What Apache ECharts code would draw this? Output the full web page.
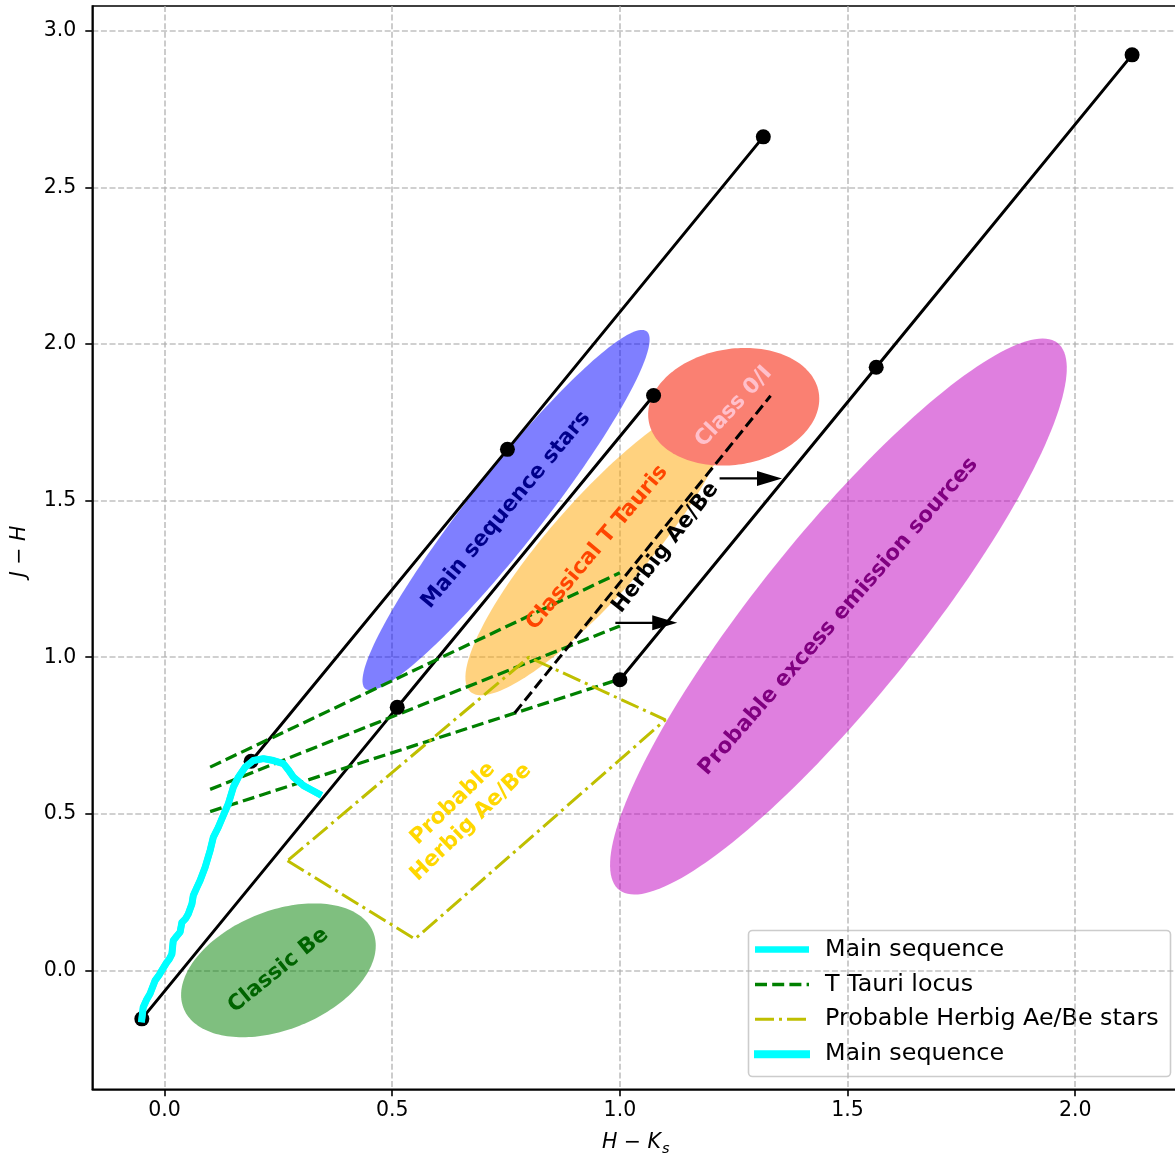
<!DOCTYPE html>
<html>
<head>
<meta charset="utf-8">
<script src="https://cdn.jsdelivr.net/npm/echarts@6/dist/echarts.min.js"></script>
<style>
  html, body { margin: 0; padding: 0; background: #ffffff; }
  #chart { width: 1175px; height: 1155px; }
</style>
</head>
<body>
<div id="chart"></div>
<script>
// ---- Colour-colour diagram data (H-Ks on x, J-H on y) ----

// Intrinsic main-sequence track
const mainSeqHK = [-0.050, -0.047, -0.040, -0.032, -0.021, -0.012, -0.006, 0.005, 0.010, 0.016, 0.019,
                   0.026, 0.034, 0.038, 0.046, 0.052, 0.060, 0.063, 0.070, 0.078, 0.089, 0.100, 0.107,
                   0.118, 0.129, 0.140, 0.151, 0.162, 0.177, 0.195, 0.217, 0.239, 0.261, 0.272, 0.283,
                   0.305, 0.324, 0.338];
const mainSeqJH = [-0.155, -0.118, -0.095, -0.075, -0.033, -0.015, 0.000, 0.026, 0.035, 0.052, 0.095,
                   0.108, 0.122, 0.153, 0.165, 0.180, 0.212, 0.239, 0.262, 0.287, 0.329, 0.383, 0.425,
                   0.457, 0.495, 0.532, 0.585, 0.617, 0.649, 0.670, 0.676, 0.670, 0.660, 0.640, 0.617,
                   0.590, 0.575, 0.564];

// Reddening vectors (anchor points every 0.5625 in H-Ks)
const redUpperHK  = [0.190, 0.753, 1.315];
const redUpperJH  = [0.668, 1.664, 2.662];
const redMiddleHK = [-0.050, 0.511, 1.074];
const redMiddleJH = [-0.155, 0.840, 1.836];
const redLowerHK  = [1.000, 1.563, 2.125];
const redLowerJH  = [0.928, 1.926, 2.924];

// T Tauri locus with its upper / lower bounds
const tTauriHK      = [0.10, 1.00];
const tTauriUpperJH = [0.649, 1.270];
const tTauriMidJH   = [0.578, 1.100];
const tTauriLowerJH = [0.507, 0.930];

// Herbig Ae/Be reddening track
const herbigHK = [0.769, 1.331];
const herbigJH = [0.822, 1.835];

// Horizontal arrows (start, end)
const arrowHK0 = [0.990, 1.219];
const arrowHK1 = [1.126, 1.356];
const arrowJH  = [1.110, 1.571];

// Probable Herbig Ae/Be box
const haebeHK = [0.27, 0.55, 1.10, 0.80, 0.27];
const haebeJH = [0.35, 0.10, 0.80, 1.00, 0.35];

// Populated regions as ellipses: centre, full width, full height, angle (deg)
const regionNames  = ['Main sequence stars', 'Classical T Tauris', 'Class 0/I', 'Probable excess emission sources', 'Classic Be'];
const regionHK     = [0.75, 0.95, 1.25, 1.48, 0.25];
const regionJH     = [1.47, 1.35, 1.80, 1.13, 0.00];
const regionWidth  = [1.30, 1.08, 0.40, 2.00, 0.50];
const regionHeight = [0.18, 0.24, 0.35, 0.40, 0.34];
const regionAngle  = [62, 60, 45, 62, 45];

// Region annotations
const labelTexts = ['Main sequence stars', 'Classical T Tauris', 'Class 0/I', 'Herbig Ae/Be',
                    'Probable excess emission sources', 'Classic Be', 'Probable\nHerbig Ae/Be'];
const labelHK = [0.75, 0.95, 1.25, 1.10, 1.48, 0.25, 0.653];
const labelJH = [1.47, 1.35, 1.80, 1.35, 1.13, 0.00, 0.503];

// Tick values
const xTicks = [0.0, 0.5, 1.0, 1.5, 2.0];
const yTicks = [0.0, 0.5, 1.0, 1.5, 2.0, 2.5, 3.0];

// ---- styling ----
const regionFill = ['rgba(0,0,255,0.5)', 'rgba(255,165,0,0.5)', '#fa8072', 'rgba(191,0,191,0.5)', 'rgba(0,128,0,0.5)'];
const labelStyle = [
  { rot: 50, color: '#00008b' },
  { rot: 50, color: '#ff4500' },
  { rot: 47, color: '#ffc0cb' },
  { rot: 52, color: '#000000' },
  { rot: 49, color: '#800080' },
  { rot: 39, color: '#006400' },
  { rot: 44, color: '#ffd700' }
];
const FONT = '"DejaVu Sans", "Liberation Sans", sans-serif';

const zip = (xs, ys) => xs.map((x, i) => [x, ys[i]]);

const ellipseData = regionHK.map((x, i) => [x, regionJH[i], regionWidth[i], regionHeight[i], regionAngle[i], i]);
const arrowData = arrowJH.map((y, i) => [arrowHK0[i], y, arrowHK1[i], y]);
const labelData = labelHK.map((x, i) => [x, labelJH[i], i]);

function renderEllipse(params, api) {
  const cx = api.value(0), cy = api.value(1);
  const a = api.value(2) / 2, b = api.value(3) / 2;
  const th = api.value(4) * Math.PI / 180;
  const idx = api.value(5);
  const pts = [];
  for (let k = 0; k < 180; k++) {
    const t = k / 180 * Math.PI * 2;
    const lx = a * Math.cos(t), ly = b * Math.sin(t);
    pts.push(api.coord([cx + lx * Math.cos(th) - ly * Math.sin(th),
                        cy + lx * Math.sin(th) + ly * Math.cos(th)]));
  }
  return { type: 'polygon', shape: { points: pts }, style: { fill: regionFill[idx], stroke: null } };
}

function renderArrow(params, api) {
  const p0 = api.coord([api.value(0), api.value(1)]);
  const p1 = api.coord([api.value(2), api.value(3)]);
  const headLen = 25, headHalf = 7.5;
  const dx = p1[0] - p0[0], dy = p1[1] - p0[1];
  const L = Math.sqrt(dx * dx + dy * dy);
  const ux = dx / L, uy = dy / L;
  const bx = p1[0] - ux * headLen, by = p1[1] - uy * headLen;
  return {
    type: 'group',
    children: [
      { type: 'line', shape: { x1: p0[0], y1: p0[1], x2: bx + ux * 2, y2: by + uy * 2 },
        style: { stroke: '#000', lineWidth: 2.2 } },
      { type: 'polygon',
        shape: { points: [[p1[0], p1[1]], [bx - uy * headHalf, by + ux * headHalf], [bx + uy * headHalf, by - ux * headHalf]] },
        style: { fill: '#000' } }
    ]
  };
}

function renderLabel(params, api) {
  const p = api.coord([api.value(0), api.value(1)]);
  const i = api.value(2);
  return {
    type: 'text', x: p[0], y: p[1], rotation: labelStyle[i].rot * Math.PI / 180,
    style: {
      text: labelTexts[i], fill: labelStyle[i].color, fontSize: 21.5, fontWeight: 'bold',
      fontFamily: FONT, align: 'center', verticalAlign: 'middle', lineHeight: 26
    }
  };
}

const gridLine = { show: true, lineStyle: { color: '#b0b0b0', opacity: 0.8, width: 1.6, type: [6, 2.6] } };
const axisCommon = {
  type: 'value',
  splitNumber: 5, minInterval: 0.5, maxInterval: 0.5,
  axisLine: { show: true, onZero: false, lineStyle: { color: '#000', width: 1.6 } },
  axisTick: { show: true, length: 7, lineStyle: { color: '#000', width: 1.6 } },
  splitLine: gridLine
};

const option = {
  animation: false,
  backgroundColor: '#ffffff',
  grid: {
    left: 92.3, top: 6, right: -10, bottom: 65.7,
    containLabel: false, outerBoundsMode: 'none',
    show: true, borderColor: '#000', borderWidth: 1.6, backgroundColor: 'transparent'
  },
  xAxis: Object.assign({}, axisCommon, {
    min: -0.1588, max: 2.2412,
    axisTick: Object.assign({}, axisCommon.axisTick, { customValues: xTicks }),
    axisLabel: { customValues: xTicks, formatter: v => v.toFixed(1), color: '#000',
                 fontSize: 20.5, fontFamily: FONT, margin: 11 }
  }),
  yAxis: Object.assign({}, axisCommon, {
    min: -0.380, max: 3.080,
    axisTick: Object.assign({}, axisCommon.axisTick, { customValues: yTicks }),
    axisLabel: { customValues: yTicks, formatter: v => v.toFixed(1), color: '#000',
                 fontSize: 20.5, fontFamily: FONT, margin: 16 }
  }),
  series: [
    { type: 'custom', name: 'Regions', silent: true, data: ellipseData, renderItem: renderEllipse,
      encode: { x: 0, y: 1 } },
    ...[[redUpperHK, redUpperJH], [redMiddleHK, redMiddleJH], [redLowerHK, redLowerJH]].map(([hk, jh]) => ({
      type: 'line', name: 'Reddening vector', silent: true, data: zip(hk, jh),
      symbol: 'circle', symbolSize: 15, showAllSymbol: true,
      itemStyle: { color: '#000', borderWidth: 0 },
      lineStyle: { color: '#000', width: 3 }
    })),
    ...[tTauriUpperJH, tTauriMidJH, tTauriLowerJH].map(jh => ({
      type: 'line', name: 'T Tauri locus', silent: true, data: zip(tTauriHK, jh), symbol: 'none',
      lineStyle: { color: '#008000', width: 3.3, type: [12, 5.2] }
    })),
    { type: 'line', name: 'Probable Herbig Ae/Be stars', silent: true, data: zip(haebeHK, haebeJH), symbol: 'none',
      lineStyle: { color: '#bfbf00', width: 3, type: [19, 5, 3, 5] } },
    { type: 'line', name: 'Herbig Ae/Be', silent: true, data: zip(herbigHK, herbigJH), symbol: 'none',
      lineStyle: { color: '#000', width: 3, type: [11, 5] } },
    { type: 'custom', name: 'Arrows', silent: true, data: arrowData, renderItem: renderArrow,
      encode: { x: [0, 2], y: [1, 3] } },
    { type: 'line', name: 'Main sequence', silent: true, zlevel: 1, data: zip(mainSeqHK, mainSeqJH), symbol: 'none',
      lineStyle: { color: '#00ffff', width: 6.5, cap: 'square', join: 'round' } },
    { type: 'line', name: 'Main sequence', silent: true, zlevel: 1, data: zip(mainSeqHK, mainSeqJH), symbol: 'none',
      lineStyle: { color: '#00ffff', width: 7, cap: 'square', join: 'round' } },
    { type: 'custom', name: 'Labels', silent: true, zlevel: 1, z: 4, data: labelData, renderItem: renderLabel,
      encode: { x: 0, y: 1 } }
  ],
  graphic: [
    // axis titles
    { type: 'text', z: 100, x: 19.5, y: 551.5, rotation: Math.PI / 2,
      style: { text: 'J − H', fontSize: 20.5, fontStyle: 'italic', fontFamily: FONT, fill: '#000',
               align: 'center', verticalAlign: 'middle' } },
    { type: 'text', z: 100, x: 661, y: 1143,
      style: { text: 'H − K', fontSize: 20.5, fontStyle: 'italic', fontFamily: FONT, fill: '#000',
               align: 'right', verticalAlign: 'middle' } },
    { type: 'text', z: 100, x: 662, y: 1149,
      style: { text: 's', fontSize: 14.5, fontStyle: 'italic', fontFamily: FONT, fill: '#000',
               align: 'left', verticalAlign: 'middle' } },
    // legend
    { type: 'group', z: 100, zlevel: 1, children: [
      { type: 'rect', shape: { x: 748.5, y: 930.5, width: 422, height: 146, r: 4 },
        style: { fill: 'rgba(255,255,255,0.8)', stroke: '#cccccc', lineWidth: 1.6 } },
      { type: 'line', shape: { x1: 755, y1: 949.5, x2: 809, y2: 949.5 },
        style: { stroke: '#00ffff', lineWidth: 6.5 } },
      { type: 'text', x: 825, y: 949.5, style: { text: 'Main sequence', fontSize: 23.8, fontFamily: FONT, fill: '#000', verticalAlign: 'middle' } },
      { type: 'line', shape: { x1: 755, y1: 984.5, x2: 809, y2: 984.5 },
        style: { stroke: '#008000', lineWidth: 3.3, lineDash: [12, 5.2] } },
      { type: 'text', x: 825, y: 984.5, style: { text: 'T Tauri locus', fontSize: 23.8, fontFamily: FONT, fill: '#000', verticalAlign: 'middle' } },
      { type: 'line', shape: { x1: 755, y1: 1019.3, x2: 809, y2: 1019.3 },
        style: { stroke: '#bfbf00', lineWidth: 3, lineDash: [19, 5, 3, 5] } },
      { type: 'text', x: 825, y: 1019.3, style: { text: 'Probable Herbig Ae/Be stars', fontSize: 23.8, fontFamily: FONT, fill: '#000', verticalAlign: 'middle' } },
      { type: 'line', shape: { x1: 754, y1: 1054.3, x2: 810, y2: 1054.3 },
        style: { stroke: '#00ffff', lineWidth: 8 } },
      { type: 'text', x: 825, y: 1054.3, style: { text: 'Main sequence', fontSize: 23.8, fontFamily: FONT, fill: '#000', verticalAlign: 'middle' } }
    ] }
  ]
};

const chart = echarts.init(document.getElementById('chart'), null, { renderer: 'canvas', width: 1175, height: 1155 });
chart.setOption(option);
</script>
</body>
</html>
